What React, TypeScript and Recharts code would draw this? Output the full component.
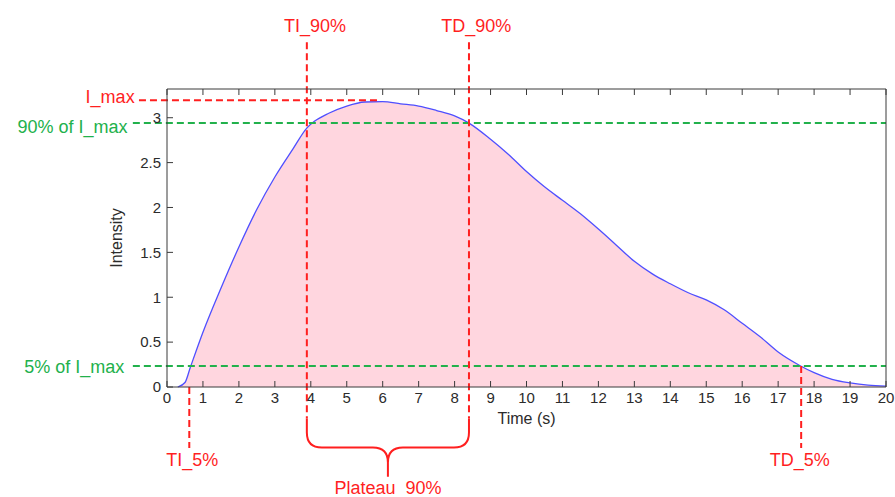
import { AreaChart, Area, XAxis, YAxis, ReferenceLine, ReferenceDot, ReferenceArea } from 'recharts'

// intensity curve (time in s)
const times = [
  0.3, 0.5, 0.65, 1.0, 1.5, 2.0, 2.5, 3.0, 3.5, 3.9, 4.1, 4.5, 5.0, 5.5, 6.0, 6.5, 7.0, 7.5, 8.0, 8.4,
  9.0, 9.5, 10.0, 10.5, 11.0, 11.5, 12.0, 12.5, 13.0, 13.5, 14.0, 14.5, 15.0, 15.5, 16.0, 16.5, 17.0,
  17.6, 18.0, 18.5, 19.0, 19.5, 20.0,
]
const intensity = [
  0, 0.05, 0.22, 0.61, 1.1, 1.56, 1.98, 2.34, 2.65, 2.89, 2.96, 3.05, 3.13, 3.175, 3.18, 3.155, 3.13, 3.08, 3.02, 2.94,
  2.76, 2.59, 2.4, 2.23, 2.08, 1.93, 1.76, 1.58, 1.4, 1.26, 1.15, 1.05, 0.97, 0.86, 0.71, 0.56, 0.39,
  0.24, 0.16, 0.085, 0.045, 0.02, 0.01,
]

const xTicks = [0, 1, 2, 3, 4, 5, 6, 7, 8, 9, 10, 11, 12, 13, 14, 15, 16, 17, 18, 19, 20]
const yTicks = [0, 0.5, 1, 1.5, 2, 2.5, 3]

// marker levels / times
const I_MAX = 3.196
const LEVEL_90 = 2.94
const LEVEL_5 = 0.235
const TI_90 = 3.89
const TD_90 = 8.4
const TI_5 = 0.62
const TD_5 = 17.64

const data = times.map((t, i) => ({ t, v: intensity[i] }))

const FONT = '"Liberation Sans", Arial, sans-serif'
const AXIS = '#3a3a3a'
const TXT = '#2b2b2b'
const RED = '#ff1f1f'
const GREEN = '#22b14c'
const DASH = '7 4'

function Brace(props: any) {
  const { x, y, width, height } = props
  const L = x
  const R = x + width
  const M = x + width / 2
  const H = y + height * 0.5
  const B = y + height
  const r = 15
  const d =
    `M${L},${y} V${H - r} Q${L},${H} ${L + r},${H} H${M - r} Q${M},${H} ${M},${H + r} V${B} ` +
    `M${R},${y} V${H - r} Q${R},${H} ${R - r},${H} H${M + r} Q${M},${H} ${M},${H + r}`
  return <path d={d} fill="none" stroke={RED} strokeWidth={2} />
}

function IntensityTitle(props: any) {
  const vb = props.viewBox
  const x = vb.x - 5
  const y = vb.y + vb.height / 2
  return (
    <text x={x} y={y} transform={`rotate(-90 ${x} ${y})`} textAnchor="middle" fill={TXT} fontSize={16}>
      Intensity
    </text>
  )
}

const note = (value: string, fill: string, position: 'center' | 'left' = 'center') => ({
  value,
  position,
  offset: 0,
  fill,
  fontSize: 18,
})

export default function App() {
  return (
    <div style={{ position: 'absolute', left: 0, top: 0, width: 895, height: 497, background: '#fff', fontFamily: FONT }}>
      <AreaChart width={895} height={497} data={data} margin={{ top: 88, right: 8, bottom: 0, left: 127 }}>
        <XAxis
          dataKey="t"
          type="number"
          domain={[0, 20]}
          ticks={xTicks}
          interval={0}
          height={110}
          tickSize={-6}
          tickMargin={11}
          stroke={AXIS}
          tick={{ fill: TXT, fontSize: 15 }}
          label={{ value: 'Time (s)', position: 'insideTop', offset: 26, fill: TXT, fontSize: 16 }}
        />
        <XAxis
          xAxisId="top"
          orientation="top"
          dataKey="t"
          type="number"
          domain={[0, 20]}
          ticks={xTicks}
          interval={0}
          height={1}
          tickSize={-6}
          tickFormatter={() => ''}
          stroke={AXIS}
        />
        <YAxis
          type="number"
          domain={[0, 3.32]}
          ticks={yTicks}
          interval={0}
          width={40}
          tickSize={-6}
          tickMargin={12}
          stroke={AXIS}
          tick={{ fill: TXT, fontSize: 15 }}
          label={IntensityTitle}
        />
        <YAxis
          yAxisId="right"
          orientation="right"
          type="number"
          domain={[0, 3.32]}
          ticks={yTicks}
          interval={0}
          width={1}
          tickSize={-6}
          tickFormatter={() => ''}
          stroke={AXIS}
        />

        <Area
          type="monotone"
          dataKey="v"
          stroke="#4f4fff"
          strokeWidth={1.3}
          fill="#ffd6df"
          fillOpacity={1}
          isAnimationActive={false}
        />

        {/* horizontal levels */}
        <ReferenceLine ifOverflow="visible" segment={[{ x: -0.78, y: I_MAX }, { x: 5.88, y: I_MAX }]} stroke={RED} strokeWidth={2} strokeDasharray={DASH} />
        <ReferenceLine ifOverflow="visible" segment={[{ x: -0.95, y: LEVEL_90 }, { x: 20, y: LEVEL_90 }]} stroke={GREEN} strokeWidth={2} strokeDasharray={DASH} />
        <ReferenceLine ifOverflow="visible" segment={[{ x: -0.95, y: LEVEL_5 }, { x: 20, y: LEVEL_5 }]} stroke={GREEN} strokeWidth={2} strokeDasharray={DASH} />

        {/* vertical markers */}
        <ReferenceLine ifOverflow="visible" segment={[{ x: TI_90, y: 3.84 }, { x: TI_90, y: -0.35 }]} stroke={RED} strokeWidth={2} strokeDasharray={DASH} />
        <ReferenceLine ifOverflow="visible" segment={[{ x: TD_90, y: 3.84 }, { x: TD_90, y: -0.35 }]} stroke={RED} strokeWidth={2} strokeDasharray={DASH} />
        <ReferenceLine ifOverflow="visible" segment={[{ x: TI_5, y: 0 }, { x: TI_5, y: -0.68 }]} stroke={RED} strokeWidth={2} strokeDasharray={DASH} />
        <ReferenceLine ifOverflow="visible" segment={[{ x: TD_5, y: LEVEL_5 }, { x: TD_5, y: -0.68 }]} stroke={RED} strokeWidth={2} strokeDasharray={DASH} />

        <ReferenceArea ifOverflow="visible" x1={TI_90} x2={TD_90} y1={-0.35} y2={-1.0} shape={Brace} />

        {/* annotation texts */}
        <ReferenceDot ifOverflow="visible" x={-0.9} y={3.24} r={0} fill="none" stroke="none" label={note('I_max', RED, 'left')} />
        <ReferenceDot ifOverflow="visible" x={-1.1} y={2.9} r={0} fill="none" stroke="none" label={note('90% of I_max', GREEN, 'left')} />
        <ReferenceDot ifOverflow="visible" x={-1.19} y={0.223} r={0} fill="none" stroke="none" label={note('5% of I_max', GREEN, 'left')} />
        <ReferenceDot ifOverflow="visible" x={4.12} y={4.03} r={0} fill="none" stroke="none" label={note('TI_90%', RED)} />
        <ReferenceDot ifOverflow="visible" x={8.6} y={4.03} r={0} fill="none" stroke="none" label={note('TD_90%', RED)} />
        <ReferenceDot ifOverflow="visible" x={0.7} y={-0.81} r={0} fill="none" stroke="none" label={note('TI_5%', RED)} />
        <ReferenceDot ifOverflow="visible" x={17.6} y={-0.81} r={0} fill="none" stroke="none" label={note('TD_5%', RED)} />
        <ReferenceDot ifOverflow="visible" x={6.15} y={-1.125} r={0} fill="none" stroke="none" label={note('Plateau\u00a0 90%', RED)} />
      </AreaChart>
    </div>
  )
}
